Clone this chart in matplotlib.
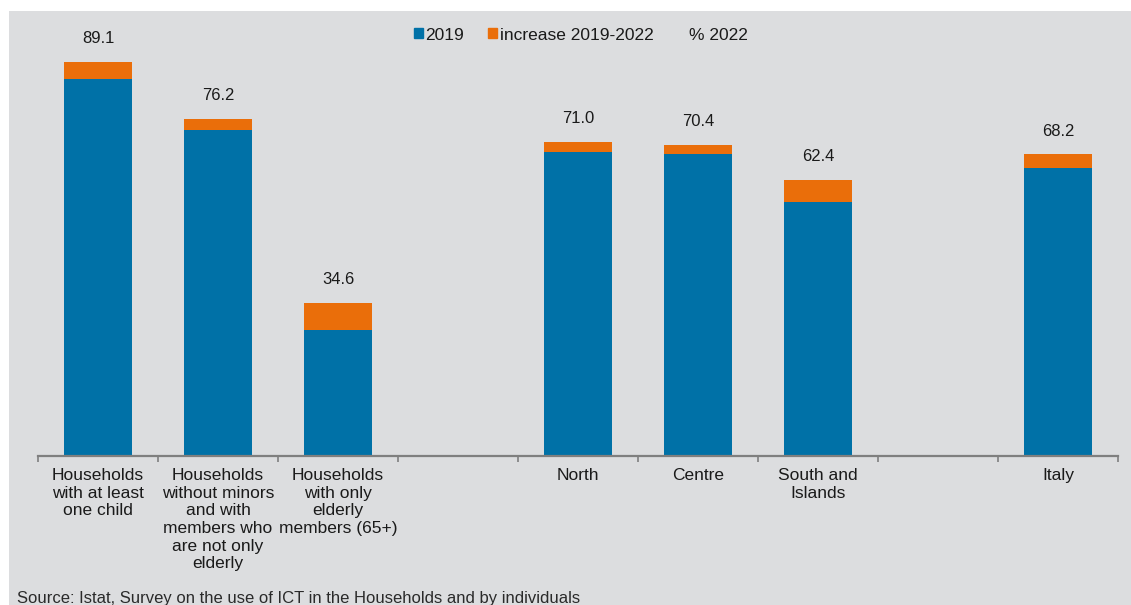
import matplotlib.pyplot as plt
import numpy as np
from matplotlib.patches import Rectangle
from matplotlib.lines import Line2D

# Internet access by household type and area (%), empty slots separate the groups
categories = [
    'Households\nwith at least\none child',
    'Households\nwithout minors\nand with\nmembers who\nare not only\nelderly',
    'Households\nwith only\nelderly\nmembers (65+)',
    '',
    'North',
    'Centre',
    'South and\nIslands',
    '',
    'Italy',
]
val_2019 = [85.3, 73.8, 28.5, np.nan, 68.8, 68.3, 57.5, np.nan, 65.2]
val_2022 = [89.1, 76.2, 34.6, np.nan, 71.0, 70.4, 62.4, np.nan, 68.2]

BLUE = '#0071a7'
ORANGE = '#ea6e0a'
BG = '#dcdddf'
TXT = '#1a1a1a'

plt.rcParams['font.family'] = ['Liberation Sans', 'DejaVu Sans']

fig = plt.figure(figsize=(11.31, 6.05), dpi=100)
fig.patch.set_facecolor('white')
# grey panel behind the whole chart
fig.patches.append(Rectangle((9 / 1131, 0), 1 - 9 / 1131, 1 - 11 / 605,
                             transform=fig.transFigure, facecolor=BG,
                             edgecolor='none', zorder=-10))

ax = fig.add_axes([38 / 1131, 149.5 / 605, 1080 / 1131, 441.6 / 605])
ax.set_facecolor('none')

x = np.arange(len(categories))
v19 = np.array(val_2019)
v22 = np.array(val_2022)
inc = v22 - v19

ax.bar(x, v19, width=0.56, color=BLUE, label='2019')
ax.bar(x, inc, bottom=v19, width=0.56, color=ORANGE, label='increase 2019-2022')

for xi, tot in zip(x, v22):
    if np.isnan(tot):
        continue
    ax.annotate(f'{tot:.1f}', (xi, tot), xytext=(0, 13.5), textcoords='offset points',
                ha='center', va='baseline', fontsize=12, color=TXT)

ax.set_xlim(-0.5, len(categories) - 0.5)
ax.set_ylim(0, 100)

for side in ['top', 'right', 'left']:
    ax.spines[side].set_visible(False)
ax.spines['bottom'].set_color('#7f7f7f')
ax.spines['bottom'].set_linewidth(1.6)
ax.set_yticks([])

# ticks between the slots, labels centred under the bars
ax.set_xticks(np.arange(len(categories) + 1) - 0.5)
ax.set_xticklabels([])
ax.tick_params(axis='x', which='major', direction='out', length=4, width=1.2, color='#7f7f7f')
ax.set_xticks(x, minor=True)
ax.set_xticklabels(categories, minor=True, fontsize=12.5, linespacing=1.22, color=TXT)
ax.tick_params(axis='x', which='minor', length=0, pad=9)

handles = [
    Rectangle((0, 0), 1, 1, color=BLUE),
    Rectangle((0, 0), 1, 1, color=ORANGE),
    Line2D([], [], color='none'),
]
fig.legend(handles, ['2019', 'increase 2019-2022', '% 2022'], loc='center',
           bbox_to_anchor=(581 / 1131, 1 - 35 / 605), ncol=3, frameon=False,
           fontsize=12.5, handlelength=0.5, handleheight=0.5, handletextpad=0.15,
           columnspacing=1.4, labelcolor=TXT)

fig.text(17 / 1131, 1 - 598 / 605, 'Source: Istat, Survey on the use of ICT in the Households and by individuals',
         ha='left', va='center', fontsize=12, color='#2a2a2a')

fig.savefig('out.png', dpi=100)
